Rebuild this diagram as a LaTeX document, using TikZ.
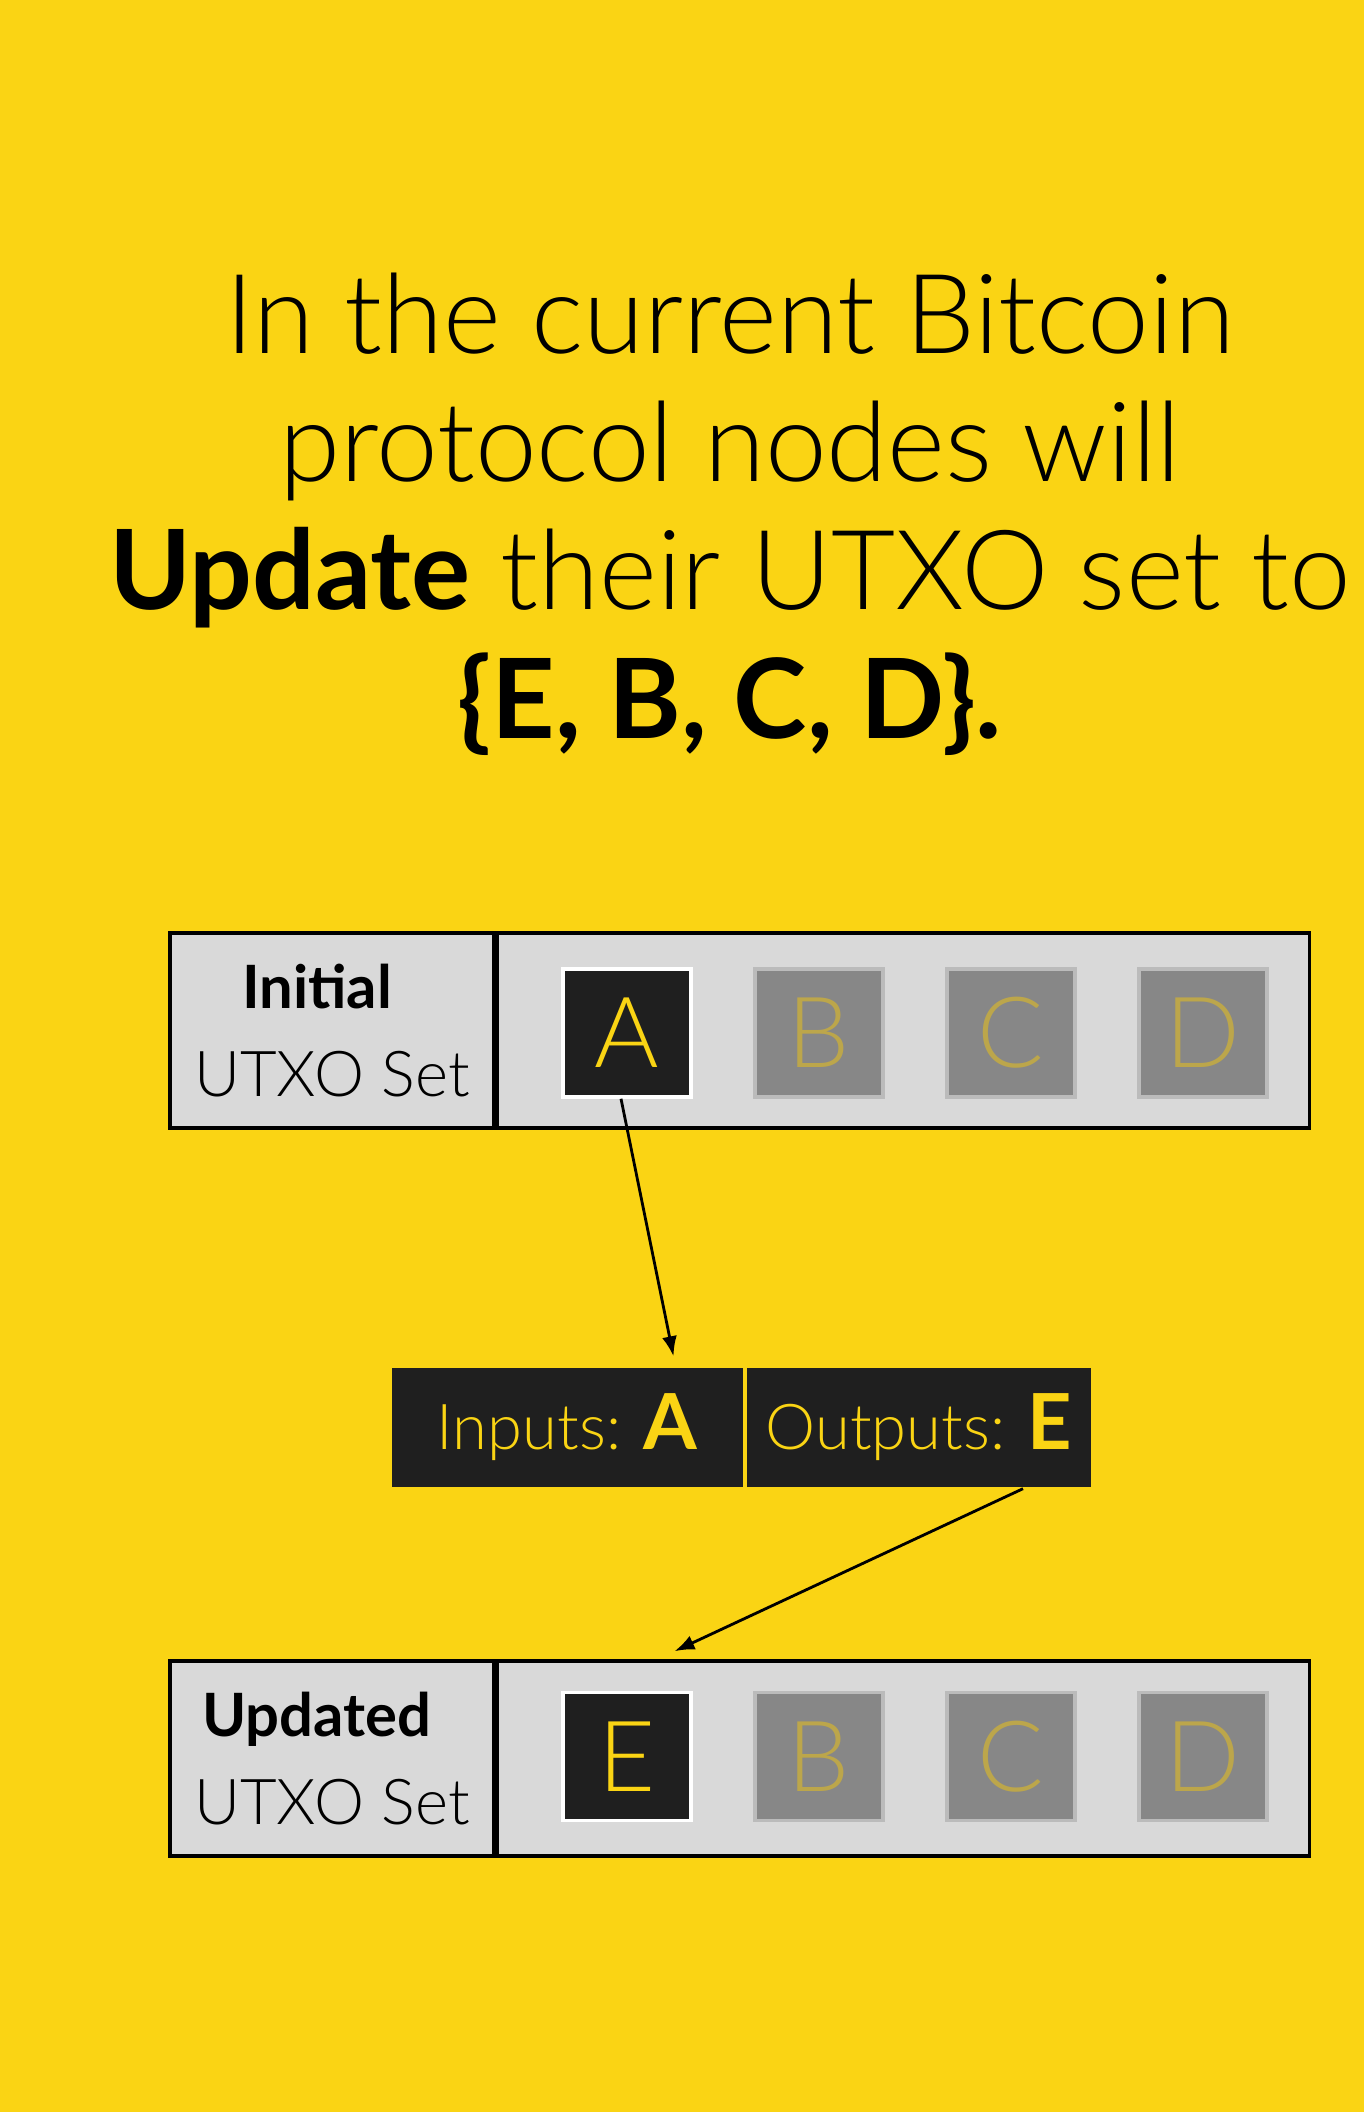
\documentclass[tikz,border=0pt]{standalone}
\usepackage{fontspec}
\setmainfont{Lato Light}[BoldFont={Lato Bold}]
\usetikzlibrary{positioning,arrows.meta}
\definecolor{bgyellow}{HTML}{FAD414}
\definecolor{cellgray}{HTML}{D9D9D9}
\definecolor{darksq}{HTML}{1F1F1F}
\definecolor{graysq}{HTML}{878787}
\definecolor{grayedge}{HTML}{BBBBBB}
\definecolor{grayletter}{HTML}{BCA64B}

\begin{document}
\begin{tikzpicture}[
  labelcell/.style={draw=black, line width=1pt, fill=cellgray, minimum width=3.24cm,
    minimum height=1.95cm, inner sep=0pt, align=center, font=\fontsize{18}{25}\selectfont},
  setcell/.style={draw=black, line width=1pt, fill=cellgray, minimum width=8.12cm,
    minimum height=1.95cm, inner sep=0pt},
  live/.style={draw=white, line width=1pt, fill=darksq, text=bgyellow, minimum size=1.28cm,
    inner sep=0pt, font=\fontsize{28}{30}\selectfont},
  spent/.style={draw=grayedge, line width=1pt, fill=graysq, text=grayletter, minimum size=1.28cm,
    inner sep=0pt, font=\fontsize{28}{30}\selectfont},
  txhalf/.style={fill=darksq, text=bgyellow, minimum height=1.19cm, inner sep=0pt,
    font=\fontsize{18}{22}\selectfont},
  arr/.style={-{Latex[length=.2cm,width=.15cm]}, line width=.8pt}
]
  \fill [bgyellow] (0,0) rectangle (13.64,21.12);
  \useasboundingbox (0,0) rectangle (13.64,21.12);
  % title
  \node at (7.3,15.98) (title) [align=center, font=\fontsize{31.5}{36.5}\selectfont]
    {In the current Bitcoin\\ protocol nodes will\\ \textbf{Update} their UTXO set to\\ \textbf{\{E, B, C, D\}.}};
  % initial set
  \node at (3.32,10.815) (init) [labelcell]
    {\textbf{\fontsize{17}{25}\selectfont Initial}\hspace*{.3cm}\\ UTXO Set};
  \node [setcell, right=0pt of init] (initset) {};
  \node at (6.27,10.79) (a0) [live] {A};
  \node at (8.19,10.79) (b0) [spent] {B};
  \node at (10.11,10.79) (c0) [spent] {C};
  \node at (12.03,10.79) (d0) [spent] {D};
  % transaction
  \node at (5.675,6.845) (inputs) [txhalf, minimum width=3.51cm]
    {Inputs: \textbf{\fontsize{22}{22}\selectfont A}};
  \node at (9.19,6.845) (outputs) [txhalf, minimum width=3.44cm]
    {Outputs: \textbf{\fontsize{22}{22}\selectfont E}};
  % updated set
  \node at (3.32,3.535) (upd) [labelcell]
    {\textbf{\fontsize{17}{25}\selectfont Updated}\hspace*{.3cm}\\ UTXO Set};
  \node [setcell, right=0pt of upd] (updset) {};
  \node at (6.27,3.555) (e1) [live] {E};
  \node at (8.19,3.555) (b1) [spent] {B};
  \node at (10.11,3.555) (c1) [spent] {C};
  \node at (12.03,3.555) (d1) [spent] {D};
  % arrows
  \draw [arr] ([xshift=-.06cm]a0.south) -- ([xshift=1.06cm,yshift=.11cm]inputs.north);
  \draw [arr] ([xshift=1.04cm,yshift=-.01cm]outputs.south) -- ([xshift=-2.29cm,yshift=.08cm]updset.north);
\end{tikzpicture}
\end{document}
